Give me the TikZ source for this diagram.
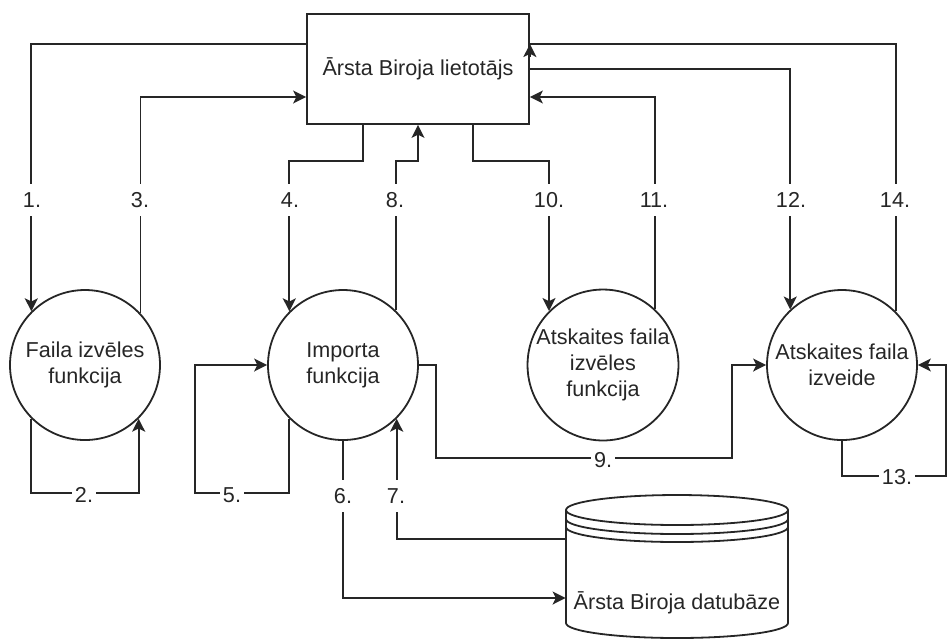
\documentclass[tikz,border=0pt]{standalone}
\usepackage{fontspec}
\setmainfont{Liberation Sans}
\usetikzlibrary{arrows.meta}
\tikzset{
  ln/.style={line width=0.9pt, draw=black!85},
  arr/.style={ln, -{Stealth[length=6.5pt,width=6.5pt,inset=1.6pt]}},
  proc/.style={circle, ln, minimum size=75pt, inner sep=0pt, align=center},
  lbl/.style={fill=white, inner xsep=1.5pt, inner ysep=0pt, minimum height=16pt, text height=7.8pt, text depth=0pt},
}
\begin{document}
\begin{tikzpicture}[x=0.5pt,y=-0.5pt, font=\fontsize{10.8}{13}\selectfont, text=black!85]
\useasboundingbox (0,0) rectangle (947,639);
% nodes
\node[ln, draw, rectangle, minimum width=111pt, minimum height=55pt, inner sep=0pt] (user) at (418,69) {Ārsta Biroja lietotājs};
\node[proc] (c1) at (85,365) {Faila izvēles\\funkcija};
\node[proc] (c2) at (343,365) {Importa\\funkcija};
\node[proc] (c3) at (603,365) {Atskaites faila\\izvēles\\funkcija};
\node[proc] (c4) at (842,365) {Atskaites faila\\izveide};
\node[minimum width=111pt, minimum height=71.5pt, inner sep=0pt] (db) at (677,566.5) {};
% cylinder
\draw[ln] (566,510) -- (566,623) arc[start angle=180,end angle=0,x radius=111,y radius=15] -- (788,510);
\draw[ln] (677,510) ellipse[x radius=111, y radius=15];
\draw[ln] (566,519) arc[start angle=180,end angle=0,x radius=111,y radius=15];
\draw[ln] (566,527) arc[start angle=180,end angle=0,x radius=111,y radius=15];
\node (dbl) at (677,603) {Ārsta Biroja datubāze};
% helper coordinates
\coordinate (h44) at (0,44);
\coordinate (h53) at (0,57);
\coordinate (h69) at (0,69);
\coordinate (h97) at (0,97);
\coordinate (h161) at (0,161);
\coordinate (h476) at (0,476);
\coordinate (h493) at (0,493);
\coordinate (h539) at (0,539);
\coordinate (h598) at (0,598);
\coordinate (v195) at (195,0);
\coordinate (v363) at (363,0);
\coordinate (v418) at (418,0);
\coordinate (v473) at (473,0);
\coordinate (v946) at (946,0);
\coordinate (b9a) at (436,458);
\coordinate (b9b) at (732,458);
% connectors
\draw[arr] (user.west |- h44) -| (c1.135);
\draw[arr] (c1.225) |- (c1.315 |- h493) -- (c1.315);
\draw[arr] (c1.43) |- (user.west |- h97);
\draw[arr] (user.south -| v363) |- (c2.135 |- h161) -- (c2.135);
\draw[arr] (c2.225) |- (v195 |- h493) |- (c2.west);
\draw[arr] (c2.south) |- (db.west |- h598);
\draw[arr] (db.west |- h539) -| (c2.315);
\draw[arr] (c2.46) |- (v418 |- h161) -- (user.south -| v418);
\draw[arr] (c2.east) -| (b9a) -- (b9b) |- (c4.west);
\draw[arr] (user.south -| v473) |- (c3.135 |- h161) -- (c3.135);
\draw[arr] (c3.47) |- (user.east |- h97);
\draw[arr] (user.east |- h69) -| (c4.133);
\draw[arr] (c4.south) |- (v946 |- h476) |- (c4.east);
\draw[ln] (c4.45) |- (user.east |- h44);
\draw[arr] (user.east |- h53) -- (user.east |- h44);
% labels
\node[lbl] (l1) at (32,200) {1.};
\node[lbl] (l2) at (84,495) {2.};
\node[lbl] (l3) at (140,200) {3.};
\node[lbl] (l4) at (290,200) {4.};
\node[lbl] (l5) at (232,495) {5.};
\node[lbl] (l6) at (343,496) {6.};
\node[lbl] (l7) at (396,496) {7.};
\node[lbl] (l8) at (395,200) {8.};
\node[lbl] (l9) at (603,460) {9.};
\node[lbl] (l10) at (549,200) {10.};
\node[lbl] (l11) at (654,200) {11.};
\node[lbl] (l12) at (791,200) {12.};
\node[lbl] (l13) at (897,477) {13.};
\node[lbl] (l14) at (895,200) {14.};
\end{tikzpicture}
\end{document}
